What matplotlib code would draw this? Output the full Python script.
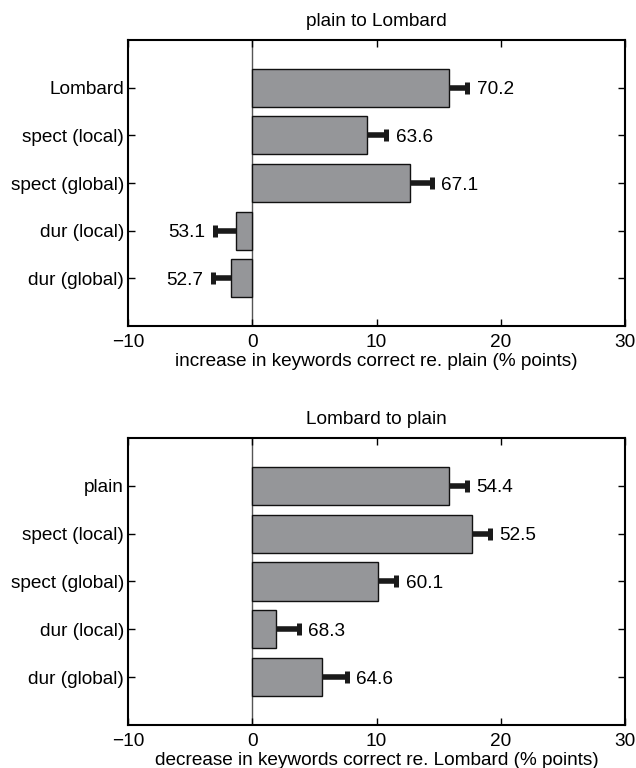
import numpy as np
import matplotlib
matplotlib.use('Agg')
import matplotlib.pyplot as plt

plt.rcParams['font.family'] = ['Liberation Sans', 'DejaVu Sans']
plt.rcParams['font.size'] = 13.7

# plain to Lombard
top_labels = ['Lombard', 'spect (local)', 'spect (global)', 'dur (local)', 'dur (global)']
top_diff = [15.8, 9.2, 12.7, -1.3, -1.7]
top_err = [1.5, 1.6, 1.75, 1.7, 1.5]
top_score = ['70.2', '63.6', '67.1', '53.1', '52.7']

# Lombard to plain
bot_labels = ['plain', 'spect (local)', 'spect (global)', 'dur (local)', 'dur (global)']
bot_diff = [15.8, 17.7, 10.1, 1.9, 5.6]
bot_err = [1.5, 1.4, 1.5, 1.85, 2.0]
bot_score = ['54.4', '52.5', '60.1', '68.3', '64.6']

fig = plt.figure(figsize=(6.36, 7.68), dpi=100)
ax1 = fig.add_axes([0.2013, 0.5755, 0.7814, 0.3724])
ax2 = fig.add_axes([0.2013, 0.0560, 0.7814, 0.3737])


def draw(ax, labels, diff, err, score, title, xlabel):
    y = np.arange(1, len(labels) + 1)
    ax.axvline(0, color='#555555', lw=1.0, zorder=1)
    ax.barh(y, diff, height=0.8, color='#959699', edgecolor='#111111', lw=1.0, zorder=2)
    for yi, d, e, s in zip(y, diff, err, score):
        sign = 1 if d >= 0 else -1
        xend = d + sign * e
        ax.plot([d, xend], [yi, yi], color='#1a1a1a', lw=4, solid_capstyle='butt', zorder=3)
        ax.plot([xend], [yi], marker='|', ms=9, mew=3.6, color='#1a1a1a', zorder=3)
        tx = xend + sign * 0.75
        ax.text(tx, yi, s, ha='left' if sign > 0 else 'right', va='center_baseline')
    ax.set_xlim(-10, 30)
    ax.set_ylim(6, 0)
    ax.set_yticks(y)
    ax.set_yticklabels(labels)
    ax.set_xticks([-10, 0, 10, 20, 30])
    ax.set_xticklabels(['\u221210', '0', '10', '20', '30'])
    ax.tick_params(direction='in', top=True, right=True, length=5, width=1)
    ax.tick_params(axis='x', pad=6)
    ax.tick_params(axis='y', pad=3)
    for sp in ax.spines.values():
        sp.set_linewidth(1.5)
    ax.set_title(title, fontsize=13.7, pad=10)
    ax.set_xlabel(xlabel, labelpad=1)


draw(ax1, top_labels, top_diff, top_err, top_score, 'plain to Lombard',
     'increase in keywords correct re. plain (% points)')
draw(ax2, bot_labels, bot_diff, bot_err, bot_score, 'Lombard to plain',
     'decrease in keywords correct re. Lombard (% points)')

fig.savefig('out.png', dpi=100)
